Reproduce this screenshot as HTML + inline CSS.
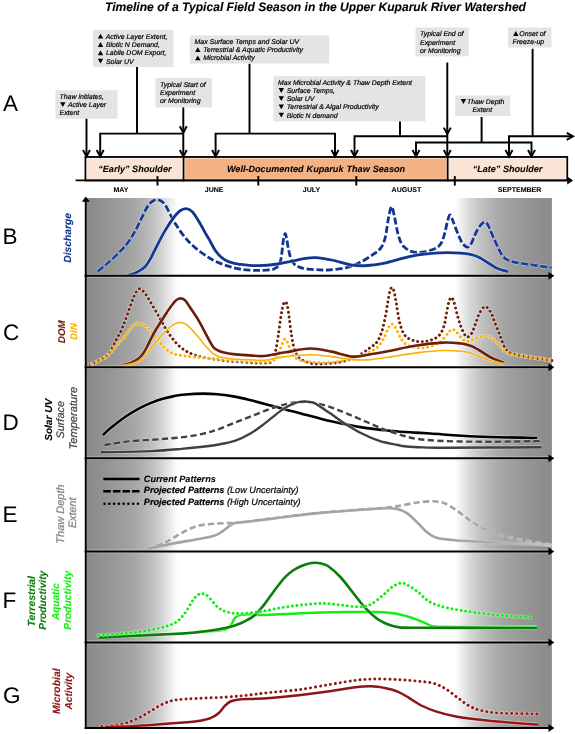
<!DOCTYPE html>
<html><head><meta charset="utf-8"><title>Timeline of a Typical Field Season</title>
<style>html,body{margin:0;padding:0;background:#fff;}body{width:575px;height:734px;overflow:hidden;}svg{display:block;will-change:transform;font-family:"Liberation Sans", sans-serif;}text{font-family:"Liberation Sans", sans-serif;text-rendering:geometricPrecision;}</style>
</head><body>
<svg width="575" height="734" viewBox="0 0 575 734">
<defs>
<linearGradient id="gl" x1="0" x2="1" y1="0" y2="0"><stop offset="0" stop-color="#8a8a8a"/><stop offset="0.25" stop-color="#959595"/><stop offset="0.48" stop-color="#a3a3a3"/><stop offset="0.6" stop-color="#afafaf"/><stop offset="0.72" stop-color="#c0c0c0"/><stop offset="0.83" stop-color="#d5d5d5"/><stop offset="0.95" stop-color="#f3f3f3"/><stop offset="1" stop-color="#ffffff"/></linearGradient>
<linearGradient id="gr" x1="0" x2="1" y1="0" y2="0"><stop offset="0" stop-color="#ffffff"/><stop offset="0.05" stop-color="#f3f3f3"/><stop offset="0.17" stop-color="#d5d5d5"/><stop offset="0.28" stop-color="#c0c0c0"/><stop offset="0.4" stop-color="#afafaf"/><stop offset="0.52" stop-color="#a3a3a3"/><stop offset="0.75" stop-color="#959595"/><stop offset="1" stop-color="#8a8a8a"/></linearGradient>
<linearGradient id="lgc" gradientUnits="userSpaceOnUse" x1="455" x2="552" y1="0" y2="0"><stop offset="0" stop-color="#a3a3a3"/><stop offset="0.5" stop-color="#b2b2b2"/><stop offset="1" stop-color="#c0c0c0"/></linearGradient>
<linearGradient id="gblue" gradientUnits="userSpaceOnUse" x1="87" x2="552" y1="0" y2="0"><stop offset="0" stop-color="#1848b8"/><stop offset="0.17" stop-color="#12358f"/><stop offset="0.8" stop-color="#12358f"/><stop offset="1" stop-color="#1848b8"/></linearGradient>
<linearGradient id="gred" gradientUnits="userSpaceOnUse" x1="87" x2="552" y1="0" y2="0"><stop offset="0" stop-color="#b81212"/><stop offset="0.17" stop-color="#8c1515"/><stop offset="0.8" stop-color="#8c1515"/><stop offset="1" stop-color="#b81212"/></linearGradient>
</defs>
<rect x="0" y="0" width="575" height="734" fill="#ffffff"/>
<rect x="87.0" y="198.0" width="91.0" height="530.0" fill="url(#gl)"/>
<rect x="454.8" y="198.0" width="97.1" height="530.0" fill="url(#gr)"/>
<path d="M97.8,271.3 C99.7,269.8 105.2,265.4 109.0,262.0 C112.8,258.6 117.3,254.4 120.6,250.9 C123.9,247.4 126.5,244.6 129.0,241.0 C131.6,237.4 133.0,235.0 135.9,229.6 C138.8,224.2 143.8,213.0 146.5,208.3 C149.2,203.6 150.2,203.0 152.0,201.6 C153.8,200.2 155.5,199.8 157.2,199.8 C158.9,199.8 160.5,200.4 162.0,201.6 C163.5,202.8 164.1,203.0 166.3,206.7 C168.5,210.4 171.4,217.7 175.4,223.8 C179.4,230.0 184.5,237.7 190.6,243.6 C196.7,249.5 204.9,255.5 212.0,259.5 C219.1,263.5 226.9,265.8 233.2,267.6 C239.5,269.4 245.2,269.8 250.0,270.2 C254.8,270.6 258.5,270.4 262.0,270.3 C265.5,270.2 268.9,270.0 270.9,269.8 C272.9,269.6 272.8,269.6 274.0,269.0 C275.2,268.4 277.2,267.5 278.3,266.0 C279.4,264.5 280.2,262.5 280.8,259.8 C281.4,257.1 281.8,253.3 282.2,250.0 C282.6,246.7 282.9,242.7 283.4,240.0 C283.9,237.3 284.6,233.8 285.1,233.6 C285.7,233.4 286.1,236.5 286.7,239.0 C287.2,241.5 287.8,245.7 288.4,248.7 C289.0,251.7 289.4,254.4 290.4,257.0 C291.4,259.6 292.6,262.3 294.2,264.0 C295.8,265.7 297.6,266.5 300.0,267.4 C302.4,268.3 305.1,268.8 308.4,269.2 C311.7,269.6 316.3,269.7 319.6,269.8 C322.9,269.9 323.8,270.4 328.3,270.0 C332.8,269.6 340.9,269.0 346.5,267.6 C352.1,266.2 357.1,263.8 361.7,261.5 C366.3,259.2 370.8,256.0 373.9,253.9 C376.9,251.8 378.4,250.8 380.0,249.0 C381.6,247.2 382.5,245.5 383.5,243.0 C384.5,240.5 385.2,238.2 386.0,234.0 C386.8,229.8 387.6,222.6 388.5,218.0 C389.4,213.4 390.6,206.9 391.6,206.7 C392.6,206.5 393.5,212.8 394.5,217.0 C395.5,221.2 396.4,227.6 397.5,232.0 C398.6,236.4 399.9,240.6 401.3,243.3 C402.7,246.1 404.4,247.2 406.0,248.5 C407.6,249.8 408.9,250.7 411.0,251.3 C413.1,252.0 415.8,252.4 418.3,252.4 C420.8,252.4 423.5,252.0 426.0,251.5 C428.5,251.0 431.3,250.2 433.5,249.3 C435.7,248.4 437.6,247.3 439.0,246.0 C440.4,244.7 441.0,243.9 442.0,241.7 C443.0,239.5 443.9,236.3 444.8,233.0 C445.7,229.7 446.5,225.0 447.3,222.0 C448.1,219.0 448.9,215.5 449.7,215.0 C450.5,214.5 451.3,217.1 452.2,219.0 C453.1,220.9 453.6,223.0 455.0,226.5 C456.4,230.0 459.2,237.1 460.7,240.2 C462.2,243.3 462.9,243.8 464.0,245.0 C465.1,246.2 466.4,247.4 467.6,247.2 C468.8,247.0 469.8,245.9 471.0,244.0 C472.2,242.1 473.2,238.5 474.6,235.6 C476.0,232.7 477.8,228.8 479.5,226.5 C481.2,224.2 483.2,222.2 484.6,222.0 C486.0,221.8 486.9,223.2 488.0,225.0 C489.1,226.8 489.5,228.5 491.3,232.6 C493.1,236.7 497.0,245.5 498.9,249.3 C500.8,253.1 501.2,253.8 502.5,255.5 C503.8,257.2 504.8,258.3 506.5,259.4 C508.2,260.4 510.5,261.1 513.0,261.8 C515.5,262.5 517.9,262.7 521.7,263.3 C525.5,263.9 531.0,264.8 536.0,265.5 C541.0,266.2 548.9,267.2 551.5,267.6" fill="none" stroke-linecap="butt" stroke-linejoin="round" stroke-dasharray="7 2.6" stroke="#fff" stroke-opacity="0.45" stroke-width="4.2"/>
<path d="M97.8,271.3 C99.7,269.8 105.2,265.4 109.0,262.0 C112.8,258.6 117.3,254.4 120.6,250.9 C123.9,247.4 126.5,244.6 129.0,241.0 C131.6,237.4 133.0,235.0 135.9,229.6 C138.8,224.2 143.8,213.0 146.5,208.3 C149.2,203.6 150.2,203.0 152.0,201.6 C153.8,200.2 155.5,199.8 157.2,199.8 C158.9,199.8 160.5,200.4 162.0,201.6 C163.5,202.8 164.1,203.0 166.3,206.7 C168.5,210.4 171.4,217.7 175.4,223.8 C179.4,230.0 184.5,237.7 190.6,243.6 C196.7,249.5 204.9,255.5 212.0,259.5 C219.1,263.5 226.9,265.8 233.2,267.6 C239.5,269.4 245.2,269.8 250.0,270.2 C254.8,270.6 258.5,270.4 262.0,270.3 C265.5,270.2 268.9,270.0 270.9,269.8 C272.9,269.6 272.8,269.6 274.0,269.0 C275.2,268.4 277.2,267.5 278.3,266.0 C279.4,264.5 280.2,262.5 280.8,259.8 C281.4,257.1 281.8,253.3 282.2,250.0 C282.6,246.7 282.9,242.7 283.4,240.0 C283.9,237.3 284.6,233.8 285.1,233.6 C285.7,233.4 286.1,236.5 286.7,239.0 C287.2,241.5 287.8,245.7 288.4,248.7 C289.0,251.7 289.4,254.4 290.4,257.0 C291.4,259.6 292.6,262.3 294.2,264.0 C295.8,265.7 297.6,266.5 300.0,267.4 C302.4,268.3 305.1,268.8 308.4,269.2 C311.7,269.6 316.3,269.7 319.6,269.8 C322.9,269.9 323.8,270.4 328.3,270.0 C332.8,269.6 340.9,269.0 346.5,267.6 C352.1,266.2 357.1,263.8 361.7,261.5 C366.3,259.2 370.8,256.0 373.9,253.9 C376.9,251.8 378.4,250.8 380.0,249.0 C381.6,247.2 382.5,245.5 383.5,243.0 C384.5,240.5 385.2,238.2 386.0,234.0 C386.8,229.8 387.6,222.6 388.5,218.0 C389.4,213.4 390.6,206.9 391.6,206.7 C392.6,206.5 393.5,212.8 394.5,217.0 C395.5,221.2 396.4,227.6 397.5,232.0 C398.6,236.4 399.9,240.6 401.3,243.3 C402.7,246.1 404.4,247.2 406.0,248.5 C407.6,249.8 408.9,250.7 411.0,251.3 C413.1,252.0 415.8,252.4 418.3,252.4 C420.8,252.4 423.5,252.0 426.0,251.5 C428.5,251.0 431.3,250.2 433.5,249.3 C435.7,248.4 437.6,247.3 439.0,246.0 C440.4,244.7 441.0,243.9 442.0,241.7 C443.0,239.5 443.9,236.3 444.8,233.0 C445.7,229.7 446.5,225.0 447.3,222.0 C448.1,219.0 448.9,215.5 449.7,215.0 C450.5,214.5 451.3,217.1 452.2,219.0 C453.1,220.9 453.6,223.0 455.0,226.5 C456.4,230.0 459.2,237.1 460.7,240.2 C462.2,243.3 462.9,243.8 464.0,245.0 C465.1,246.2 466.4,247.4 467.6,247.2 C468.8,247.0 469.8,245.9 471.0,244.0 C472.2,242.1 473.2,238.5 474.6,235.6 C476.0,232.7 477.8,228.8 479.5,226.5 C481.2,224.2 483.2,222.2 484.6,222.0 C486.0,221.8 486.9,223.2 488.0,225.0 C489.1,226.8 489.5,228.5 491.3,232.6 C493.1,236.7 497.0,245.5 498.9,249.3 C500.8,253.1 501.2,253.8 502.5,255.5 C503.8,257.2 504.8,258.3 506.5,259.4 C508.2,260.4 510.5,261.1 513.0,261.8 C515.5,262.5 517.9,262.7 521.7,263.3 C525.5,263.9 531.0,264.8 536.0,265.5 C541.0,266.2 548.9,267.2 551.5,267.6" fill="none" stroke-linecap="butt" stroke-linejoin="round" stroke-dasharray="7 2.6" stroke="url(#gblue)" stroke-width="2.8"/>
<path d="M127.6,275.3 C128.5,275.1 131.3,274.4 133.0,273.8 C134.7,273.2 135.9,272.8 138.0,271.6 C140.1,270.4 143.2,268.7 145.3,266.5 C147.4,264.3 148.6,262.0 150.5,258.6 C152.4,255.2 154.4,250.8 156.8,246.1 C159.2,241.4 162.4,235.1 165.2,230.4 C168.0,225.7 171.1,221.1 173.5,217.9 C175.9,214.7 177.7,212.5 179.8,211.0 C181.9,209.5 183.9,208.6 186.0,208.7 C188.1,208.8 190.2,209.6 192.3,211.7 C194.4,213.8 196.2,217.0 198.6,221.0 C201.0,225.0 205.0,232.4 206.9,235.7 C208.8,239.0 208.7,238.5 210.0,240.9 C211.3,243.3 213.2,247.3 215.0,250.0 C216.8,252.7 219.0,255.2 221.0,257.0 C223.0,258.8 225.0,260.0 227.0,261.0 C229.0,262.0 231.0,262.4 233.2,263.0 C235.4,263.6 235.8,263.9 240.0,264.3 C244.2,264.8 252.0,265.8 258.3,265.7 C264.6,265.6 272.2,264.8 277.8,264.0 C283.4,263.2 287.1,262.1 291.7,261.2 C296.3,260.3 301.8,259.0 305.7,258.4 C309.6,257.8 311.1,257.4 315.4,257.7 C319.7,258.0 325.1,258.8 331.3,260.0 C337.5,261.2 346.5,264.3 352.6,265.2 C358.7,266.1 362.2,265.9 367.8,265.5 C373.4,265.1 379.9,264.1 386.0,262.8 C392.1,261.5 398.9,259.2 404.3,257.9 C409.7,256.6 412.4,255.8 418.3,254.9 C424.2,254.1 432.5,253.1 439.6,252.8 C446.7,252.5 454.8,252.7 460.9,253.2 C467.0,253.7 471.4,254.4 476.0,256.0 C480.6,257.6 484.7,260.9 488.3,263.0 C491.9,265.1 494.1,267.1 497.4,268.5 C500.7,269.9 506.2,271.1 508.0,271.6" fill="none" stroke-linecap="butt" stroke-linejoin="round" stroke="#fff" stroke-opacity="0.45" stroke-width="4.2"/>
<path d="M127.6,275.3 C128.5,275.1 131.3,274.4 133.0,273.8 C134.7,273.2 135.9,272.8 138.0,271.6 C140.1,270.4 143.2,268.7 145.3,266.5 C147.4,264.3 148.6,262.0 150.5,258.6 C152.4,255.2 154.4,250.8 156.8,246.1 C159.2,241.4 162.4,235.1 165.2,230.4 C168.0,225.7 171.1,221.1 173.5,217.9 C175.9,214.7 177.7,212.5 179.8,211.0 C181.9,209.5 183.9,208.6 186.0,208.7 C188.1,208.8 190.2,209.6 192.3,211.7 C194.4,213.8 196.2,217.0 198.6,221.0 C201.0,225.0 205.0,232.4 206.9,235.7 C208.8,239.0 208.7,238.5 210.0,240.9 C211.3,243.3 213.2,247.3 215.0,250.0 C216.8,252.7 219.0,255.2 221.0,257.0 C223.0,258.8 225.0,260.0 227.0,261.0 C229.0,262.0 231.0,262.4 233.2,263.0 C235.4,263.6 235.8,263.9 240.0,264.3 C244.2,264.8 252.0,265.8 258.3,265.7 C264.6,265.6 272.2,264.8 277.8,264.0 C283.4,263.2 287.1,262.1 291.7,261.2 C296.3,260.3 301.8,259.0 305.7,258.4 C309.6,257.8 311.1,257.4 315.4,257.7 C319.7,258.0 325.1,258.8 331.3,260.0 C337.5,261.2 346.5,264.3 352.6,265.2 C358.7,266.1 362.2,265.9 367.8,265.5 C373.4,265.1 379.9,264.1 386.0,262.8 C392.1,261.5 398.9,259.2 404.3,257.9 C409.7,256.6 412.4,255.8 418.3,254.9 C424.2,254.1 432.5,253.1 439.6,252.8 C446.7,252.5 454.8,252.7 460.9,253.2 C467.0,253.7 471.4,254.4 476.0,256.0 C480.6,257.6 484.7,260.9 488.3,263.0 C491.9,265.1 494.1,267.1 497.4,268.5 C500.7,269.9 506.2,271.1 508.0,271.6" fill="none" stroke-linecap="butt" stroke-linejoin="round" stroke="url(#gblue)" stroke-width="2.8"/>
<path d="M90.2,364.8 C91.5,364.2 95.5,362.4 98.0,361.0 C100.5,359.6 103.4,358.1 105.4,356.6 C107.4,355.1 108.8,353.5 110.0,352.0 C111.2,350.5 111.7,349.1 112.5,347.5 C113.3,345.9 114.2,344.1 115.0,342.4 C115.8,340.7 116.7,338.8 117.6,337.2 C118.5,335.6 119.4,334.1 120.2,332.5 C121.0,330.9 121.7,329.3 122.3,327.8 C122.9,326.3 123.4,325.0 123.9,323.7 C124.4,322.4 123.9,324.1 125.4,320.0 C126.9,315.9 131.0,304.1 132.8,299.3 C134.7,294.6 135.3,293.3 136.5,291.5 C137.7,289.7 138.6,288.7 139.8,288.7 C141.0,288.7 142.1,290.0 143.5,291.5 C144.9,293.0 145.5,293.7 148.0,297.8 C150.5,301.9 155.1,310.0 158.7,316.1 C162.2,322.2 165.5,329.0 169.3,334.3 C173.1,339.6 176.9,344.4 181.5,348.0 C186.1,351.6 190.1,353.6 196.7,355.6 C203.3,357.6 212.1,359.0 221.0,360.2 C229.9,361.4 243.2,362.1 250.0,362.6 C256.8,363.1 258.6,363.0 262.0,363.0 C265.4,363.0 268.5,363.2 270.4,362.4 C272.3,361.6 272.6,360.2 273.5,358.0 C274.4,355.8 275.2,353.0 276.0,349.0 C276.8,345.0 277.7,339.5 278.5,334.0 C279.3,328.5 280.2,320.8 281.0,316.0 C281.8,311.2 282.3,307.9 283.0,305.5 C283.7,303.1 284.5,301.8 285.2,301.8 C285.9,301.8 286.6,302.8 287.3,305.5 C288.0,308.2 288.5,313.1 289.2,318.0 C289.9,322.9 290.7,330.2 291.5,335.0 C292.3,339.8 292.8,343.5 293.8,347.0 C294.8,350.5 296.1,353.9 297.5,356.0 C298.9,358.1 300.2,358.8 302.0,359.8 C303.8,360.9 305.7,361.6 308.0,362.3 C310.3,363.0 311.1,363.9 316.0,364.0 C320.9,364.1 330.8,363.7 337.4,362.6 C344.0,361.5 350.2,359.7 355.6,357.2 C361.0,354.7 366.5,350.3 370.0,347.8 C373.5,345.3 374.9,344.6 376.8,342.2 C378.7,339.8 380.1,336.3 381.3,333.1 C382.5,329.9 383.2,326.6 384.0,323.0 C384.8,319.4 385.6,315.5 386.3,311.7 C387.0,307.9 387.5,303.7 388.1,300.3 C388.7,296.9 389.3,293.4 389.9,291.3 C390.5,289.2 391.2,287.5 391.9,287.5 C392.6,287.5 393.4,289.2 394.0,291.3 C394.6,293.4 395.2,296.9 395.8,300.3 C396.4,303.7 396.9,307.9 397.6,311.7 C398.3,315.5 398.9,319.6 399.8,323.0 C400.7,326.4 401.6,329.6 402.8,332.0 C404.1,334.4 405.2,336.2 407.3,337.7 C409.4,339.2 412.4,340.3 415.2,341.0 C418.0,341.7 421.3,342.0 424.3,341.7 C427.3,341.4 430.7,340.4 433.3,339.2 C435.9,338.0 438.3,336.6 440.1,334.3 C441.9,332.0 443.1,328.6 444.2,325.2 C445.2,321.8 445.6,317.7 446.4,313.9 C447.1,310.1 447.9,305.4 448.7,302.6 C449.5,299.9 450.5,297.4 451.4,297.4 C452.3,297.4 453.2,299.9 454.1,302.6 C455.0,305.4 455.9,310.1 457.0,313.9 C458.1,317.7 459.1,321.8 460.4,325.2 C461.6,328.6 463.3,332.3 464.5,334.3 C465.7,336.3 466.5,337.2 467.7,337.0 C468.9,336.8 470.3,335.4 471.7,333.1 C473.1,330.8 474.5,326.4 475.8,323.0 C477.1,319.6 478.1,315.6 479.7,312.8 C481.3,310.1 483.4,306.5 485.3,306.5 C487.2,306.5 489.4,310.1 491.0,312.8 C492.6,315.6 493.5,319.2 495.0,323.0 C496.5,326.8 498.5,331.6 500.0,335.4 C501.5,339.2 502.7,343.3 504.0,346.0 C505.3,348.7 506.3,350.4 508.0,351.7 C509.7,353.0 511.7,353.3 514.0,354.0 C516.3,354.7 515.1,354.9 521.7,356.0 C528.3,357.1 548.4,360.0 553.7,360.8" fill="none" stroke-linecap="round" stroke-linejoin="round" stroke-dasharray="0.1 4.6" stroke="#fff" stroke-opacity="0.45" stroke-width="4.3"/>
<path d="M90.2,364.8 C91.5,364.2 95.5,362.4 98.0,361.0 C100.5,359.6 103.4,358.1 105.4,356.6 C107.4,355.1 108.8,353.5 110.0,352.0 C111.2,350.5 111.7,349.1 112.5,347.5 C113.3,345.9 114.2,344.1 115.0,342.4 C115.8,340.7 116.7,338.8 117.6,337.2 C118.5,335.6 119.4,334.1 120.2,332.5 C121.0,330.9 121.7,329.3 122.3,327.8 C122.9,326.3 123.4,325.0 123.9,323.7 C124.4,322.4 123.9,324.1 125.4,320.0 C126.9,315.9 131.0,304.1 132.8,299.3 C134.7,294.6 135.3,293.3 136.5,291.5 C137.7,289.7 138.6,288.7 139.8,288.7 C141.0,288.7 142.1,290.0 143.5,291.5 C144.9,293.0 145.5,293.7 148.0,297.8 C150.5,301.9 155.1,310.0 158.7,316.1 C162.2,322.2 165.5,329.0 169.3,334.3 C173.1,339.6 176.9,344.4 181.5,348.0 C186.1,351.6 190.1,353.6 196.7,355.6 C203.3,357.6 212.1,359.0 221.0,360.2 C229.9,361.4 243.2,362.1 250.0,362.6 C256.8,363.1 258.6,363.0 262.0,363.0 C265.4,363.0 268.5,363.2 270.4,362.4 C272.3,361.6 272.6,360.2 273.5,358.0 C274.4,355.8 275.2,353.0 276.0,349.0 C276.8,345.0 277.7,339.5 278.5,334.0 C279.3,328.5 280.2,320.8 281.0,316.0 C281.8,311.2 282.3,307.9 283.0,305.5 C283.7,303.1 284.5,301.8 285.2,301.8 C285.9,301.8 286.6,302.8 287.3,305.5 C288.0,308.2 288.5,313.1 289.2,318.0 C289.9,322.9 290.7,330.2 291.5,335.0 C292.3,339.8 292.8,343.5 293.8,347.0 C294.8,350.5 296.1,353.9 297.5,356.0 C298.9,358.1 300.2,358.8 302.0,359.8 C303.8,360.9 305.7,361.6 308.0,362.3 C310.3,363.0 311.1,363.9 316.0,364.0 C320.9,364.1 330.8,363.7 337.4,362.6 C344.0,361.5 350.2,359.7 355.6,357.2 C361.0,354.7 366.5,350.3 370.0,347.8 C373.5,345.3 374.9,344.6 376.8,342.2 C378.7,339.8 380.1,336.3 381.3,333.1 C382.5,329.9 383.2,326.6 384.0,323.0 C384.8,319.4 385.6,315.5 386.3,311.7 C387.0,307.9 387.5,303.7 388.1,300.3 C388.7,296.9 389.3,293.4 389.9,291.3 C390.5,289.2 391.2,287.5 391.9,287.5 C392.6,287.5 393.4,289.2 394.0,291.3 C394.6,293.4 395.2,296.9 395.8,300.3 C396.4,303.7 396.9,307.9 397.6,311.7 C398.3,315.5 398.9,319.6 399.8,323.0 C400.7,326.4 401.6,329.6 402.8,332.0 C404.1,334.4 405.2,336.2 407.3,337.7 C409.4,339.2 412.4,340.3 415.2,341.0 C418.0,341.7 421.3,342.0 424.3,341.7 C427.3,341.4 430.7,340.4 433.3,339.2 C435.9,338.0 438.3,336.6 440.1,334.3 C441.9,332.0 443.1,328.6 444.2,325.2 C445.2,321.8 445.6,317.7 446.4,313.9 C447.1,310.1 447.9,305.4 448.7,302.6 C449.5,299.9 450.5,297.4 451.4,297.4 C452.3,297.4 453.2,299.9 454.1,302.6 C455.0,305.4 455.9,310.1 457.0,313.9 C458.1,317.7 459.1,321.8 460.4,325.2 C461.6,328.6 463.3,332.3 464.5,334.3 C465.7,336.3 466.5,337.2 467.7,337.0 C468.9,336.8 470.3,335.4 471.7,333.1 C473.1,330.8 474.5,326.4 475.8,323.0 C477.1,319.6 478.1,315.6 479.7,312.8 C481.3,310.1 483.4,306.5 485.3,306.5 C487.2,306.5 489.4,310.1 491.0,312.8 C492.6,315.6 493.5,319.2 495.0,323.0 C496.5,326.8 498.5,331.6 500.0,335.4 C501.5,339.2 502.7,343.3 504.0,346.0 C505.3,348.7 506.3,350.4 508.0,351.7 C509.7,353.0 511.7,353.3 514.0,354.0 C516.3,354.7 515.1,354.9 521.7,356.0 C528.3,357.1 548.4,360.0 553.7,360.8" fill="none" stroke-linecap="round" stroke-linejoin="round" stroke-dasharray="0.1 4.6" stroke="#6b1f08" stroke-width="2.9"/>
<path d="M90.2,364.8 C91.5,364.2 95.5,362.6 98.0,361.3 C100.5,360.0 103.4,358.6 105.4,357.2 C107.4,355.8 108.4,354.7 110.0,353.0 C111.6,351.3 113.5,348.8 115.0,347.1 C116.5,345.4 117.5,344.3 118.7,343.0 C119.9,341.7 121.2,340.6 122.3,339.3 C123.4,338.0 124.4,336.7 125.4,335.4 C126.4,334.1 127.4,332.8 128.4,331.5 C129.4,330.2 130.4,328.7 131.5,327.5 C132.6,326.3 133.5,325.1 134.8,324.4 C136.1,323.7 137.9,323.2 139.5,323.3 C141.1,323.4 142.8,324.2 144.2,325.0 C145.6,325.8 146.7,326.9 147.9,328.1 C149.1,329.3 150.4,330.7 151.5,332.0 C152.6,333.3 153.6,334.5 154.7,335.7 C155.8,336.9 156.8,338.0 157.8,339.3 C158.8,340.6 159.9,342.2 160.9,343.5 C161.9,344.8 162.9,346.1 164.0,347.3 C165.1,348.5 166.4,349.6 167.7,350.5 C169.0,351.4 170.1,352.1 171.9,352.9 C173.7,353.6 174.4,354.3 178.5,355.0 C182.6,355.7 189.6,356.5 196.7,357.2 C203.8,357.9 212.1,358.6 221.0,359.3 C229.9,360.0 242.8,361.0 250.0,361.4 C257.2,361.8 260.3,361.8 264.0,361.7 C267.7,361.6 270.0,361.6 272.0,361.0 C274.0,360.4 274.8,359.7 276.0,358.0 C277.2,356.3 278.4,353.5 279.5,351.0 C280.6,348.5 281.6,345.0 282.5,343.0 C283.4,341.0 284.2,339.0 285.0,338.9 C285.8,338.8 286.6,340.6 287.5,342.5 C288.4,344.4 289.3,347.6 290.5,350.0 C291.7,352.4 293.2,355.5 294.8,357.2 C296.4,358.9 298.0,359.4 300.0,360.2 C302.0,360.9 301.8,361.3 307.0,361.7 C312.2,362.1 323.2,363.4 331.3,362.6 C339.4,361.9 349.2,359.0 355.6,357.2 C362.1,355.4 366.1,353.8 370.0,351.9 C373.9,350.0 376.6,348.2 379.0,345.6 C381.4,343.0 383.2,339.3 384.7,336.5 C386.2,333.7 387.2,330.5 388.1,328.6 C389.0,326.7 389.4,326.1 390.0,325.3 C390.6,324.6 391.3,324.1 391.9,324.1 C392.5,324.1 393.1,324.6 393.8,325.3 C394.5,326.1 394.9,326.5 396.0,328.6 C397.1,330.7 398.8,335.1 400.5,337.7 C402.2,340.3 403.8,342.8 406.2,344.4 C408.6,346.0 412.2,346.8 415.2,347.4 C418.2,348.0 420.9,348.3 424.3,347.8 C427.7,347.3 432.6,345.7 435.6,344.4 C438.6,343.1 440.2,341.8 442.3,339.9 C444.4,338.0 446.7,334.7 448.0,333.1 C449.3,331.5 449.6,331.1 450.3,330.5 C451.1,329.9 451.8,329.3 452.5,329.3 C453.2,329.3 454.1,329.8 454.8,330.3 C455.6,330.8 455.7,331.0 457.0,332.5 C458.3,334.0 460.9,337.7 462.7,339.2 C464.5,340.7 465.8,341.6 467.7,341.5 C469.6,341.4 471.8,339.6 474.0,338.8 C476.2,338.0 478.5,336.9 480.8,336.5 C483.1,336.1 485.5,335.7 487.6,336.1 C489.7,336.6 491.1,337.6 493.2,339.2 C495.3,340.8 498.3,343.8 500.0,345.6 C501.7,347.4 502.0,348.7 503.5,350.0 C505.0,351.3 507.0,352.8 509.0,353.6 C511.0,354.4 511.5,354.3 515.6,355.0 C519.8,355.7 527.5,356.7 533.9,357.7 C540.2,358.7 550.4,360.3 553.7,360.8" fill="none" stroke-linecap="round" stroke-linejoin="round" stroke-dasharray="0.1 4.6" stroke-dashoffset="2.71" stroke="#fff" stroke-opacity="0.45" stroke-width="4.3"/>
<path d="M90.2,364.8 C91.5,364.2 95.5,362.6 98.0,361.3 C100.5,360.0 103.4,358.6 105.4,357.2 C107.4,355.8 108.4,354.7 110.0,353.0 C111.6,351.3 113.5,348.8 115.0,347.1 C116.5,345.4 117.5,344.3 118.7,343.0 C119.9,341.7 121.2,340.6 122.3,339.3 C123.4,338.0 124.4,336.7 125.4,335.4 C126.4,334.1 127.4,332.8 128.4,331.5 C129.4,330.2 130.4,328.7 131.5,327.5 C132.6,326.3 133.5,325.1 134.8,324.4 C136.1,323.7 137.9,323.2 139.5,323.3 C141.1,323.4 142.8,324.2 144.2,325.0 C145.6,325.8 146.7,326.9 147.9,328.1 C149.1,329.3 150.4,330.7 151.5,332.0 C152.6,333.3 153.6,334.5 154.7,335.7 C155.8,336.9 156.8,338.0 157.8,339.3 C158.8,340.6 159.9,342.2 160.9,343.5 C161.9,344.8 162.9,346.1 164.0,347.3 C165.1,348.5 166.4,349.6 167.7,350.5 C169.0,351.4 170.1,352.1 171.9,352.9 C173.7,353.6 174.4,354.3 178.5,355.0 C182.6,355.7 189.6,356.5 196.7,357.2 C203.8,357.9 212.1,358.6 221.0,359.3 C229.9,360.0 242.8,361.0 250.0,361.4 C257.2,361.8 260.3,361.8 264.0,361.7 C267.7,361.6 270.0,361.6 272.0,361.0 C274.0,360.4 274.8,359.7 276.0,358.0 C277.2,356.3 278.4,353.5 279.5,351.0 C280.6,348.5 281.6,345.0 282.5,343.0 C283.4,341.0 284.2,339.0 285.0,338.9 C285.8,338.8 286.6,340.6 287.5,342.5 C288.4,344.4 289.3,347.6 290.5,350.0 C291.7,352.4 293.2,355.5 294.8,357.2 C296.4,358.9 298.0,359.4 300.0,360.2 C302.0,360.9 301.8,361.3 307.0,361.7 C312.2,362.1 323.2,363.4 331.3,362.6 C339.4,361.9 349.2,359.0 355.6,357.2 C362.1,355.4 366.1,353.8 370.0,351.9 C373.9,350.0 376.6,348.2 379.0,345.6 C381.4,343.0 383.2,339.3 384.7,336.5 C386.2,333.7 387.2,330.5 388.1,328.6 C389.0,326.7 389.4,326.1 390.0,325.3 C390.6,324.6 391.3,324.1 391.9,324.1 C392.5,324.1 393.1,324.6 393.8,325.3 C394.5,326.1 394.9,326.5 396.0,328.6 C397.1,330.7 398.8,335.1 400.5,337.7 C402.2,340.3 403.8,342.8 406.2,344.4 C408.6,346.0 412.2,346.8 415.2,347.4 C418.2,348.0 420.9,348.3 424.3,347.8 C427.7,347.3 432.6,345.7 435.6,344.4 C438.6,343.1 440.2,341.8 442.3,339.9 C444.4,338.0 446.7,334.7 448.0,333.1 C449.3,331.5 449.6,331.1 450.3,330.5 C451.1,329.9 451.8,329.3 452.5,329.3 C453.2,329.3 454.1,329.8 454.8,330.3 C455.6,330.8 455.7,331.0 457.0,332.5 C458.3,334.0 460.9,337.7 462.7,339.2 C464.5,340.7 465.8,341.6 467.7,341.5 C469.6,341.4 471.8,339.6 474.0,338.8 C476.2,338.0 478.5,336.9 480.8,336.5 C483.1,336.1 485.5,335.7 487.6,336.1 C489.7,336.6 491.1,337.6 493.2,339.2 C495.3,340.8 498.3,343.8 500.0,345.6 C501.7,347.4 502.0,348.7 503.5,350.0 C505.0,351.3 507.0,352.8 509.0,353.6 C511.0,354.4 511.5,354.3 515.6,355.0 C519.8,355.7 527.5,356.7 533.9,357.7 C540.2,358.7 550.4,360.3 553.7,360.8" fill="none" stroke-linecap="round" stroke-linejoin="round" stroke-dasharray="0.1 4.6" stroke-dashoffset="2.71" stroke="#fcb300" stroke-width="2.9"/>
<path d="M121.3,365.5 C122.9,365.1 127.9,364.0 130.7,362.9 C133.5,361.8 135.9,360.7 138.0,359.1 C140.1,357.5 141.6,355.6 143.2,353.4 C144.8,351.2 145.9,348.7 147.3,346.1 C148.7,343.5 149.9,340.7 151.5,337.7 C153.1,334.7 154.9,331.2 156.7,328.3 C158.4,325.4 160.4,322.5 162.0,320.0 C163.6,317.5 164.9,315.3 166.3,313.2 C167.7,311.1 168.8,309.3 170.4,307.2 C172.0,305.1 174.3,302.0 175.7,300.6 C177.0,299.2 177.6,299.3 178.5,298.9 C179.4,298.5 180.1,298.3 180.9,298.4 C181.7,298.4 182.6,298.7 183.5,299.2 C184.4,299.7 184.8,299.8 186.1,301.5 C187.4,303.2 189.0,305.8 191.3,309.3 C193.6,312.8 196.8,317.2 199.7,322.3 C202.6,327.4 206.7,335.8 209.0,340.0 C211.3,344.2 212.0,345.6 213.5,347.3 C215.0,349.1 216.1,349.6 218.0,350.5 C219.9,351.4 222.5,352.2 225.0,352.8 C227.5,353.4 229.0,353.7 233.2,354.1 C237.4,354.5 244.8,355.1 250.0,355.4 C255.2,355.7 258.4,356.5 264.3,356.0 C270.2,355.5 278.0,353.6 285.6,352.3 C293.2,351.1 302.4,348.6 310.0,348.5 C317.6,348.4 324.2,350.2 331.3,351.6 C338.4,353.0 346.5,356.1 352.6,356.6 C358.7,357.1 361.7,355.6 367.8,354.7 C373.9,353.8 381.1,352.5 389.0,351.0 C396.9,349.5 406.1,347.2 415.0,345.8 C423.9,344.4 435.0,343.0 442.6,342.6 C450.2,342.2 456.4,343.0 460.9,343.5 C465.4,344.0 467.1,344.9 469.5,345.6 C471.9,346.3 473.1,346.9 475.0,347.8 C476.9,348.7 478.3,349.7 480.8,351.2 C483.3,352.7 487.3,355.5 489.8,356.9 C492.3,358.3 493.7,358.8 496.0,359.8 C498.3,360.8 502.2,362.3 503.5,362.8" fill="none" stroke-linecap="butt" stroke-linejoin="round" stroke="#fff" stroke-opacity="0.45" stroke-width="4.0"/>
<path d="M121.3,365.5 C122.9,365.1 127.9,364.0 130.7,362.9 C133.5,361.8 135.9,360.7 138.0,359.1 C140.1,357.5 141.6,355.6 143.2,353.4 C144.8,351.2 145.9,348.7 147.3,346.1 C148.7,343.5 149.9,340.7 151.5,337.7 C153.1,334.7 154.9,331.2 156.7,328.3 C158.4,325.4 160.4,322.5 162.0,320.0 C163.6,317.5 164.9,315.3 166.3,313.2 C167.7,311.1 168.8,309.3 170.4,307.2 C172.0,305.1 174.3,302.0 175.7,300.6 C177.0,299.2 177.6,299.3 178.5,298.9 C179.4,298.5 180.1,298.3 180.9,298.4 C181.7,298.4 182.6,298.7 183.5,299.2 C184.4,299.7 184.8,299.8 186.1,301.5 C187.4,303.2 189.0,305.8 191.3,309.3 C193.6,312.8 196.8,317.2 199.7,322.3 C202.6,327.4 206.7,335.8 209.0,340.0 C211.3,344.2 212.0,345.6 213.5,347.3 C215.0,349.1 216.1,349.6 218.0,350.5 C219.9,351.4 222.5,352.2 225.0,352.8 C227.5,353.4 229.0,353.7 233.2,354.1 C237.4,354.5 244.8,355.1 250.0,355.4 C255.2,355.7 258.4,356.5 264.3,356.0 C270.2,355.5 278.0,353.6 285.6,352.3 C293.2,351.1 302.4,348.6 310.0,348.5 C317.6,348.4 324.2,350.2 331.3,351.6 C338.4,353.0 346.5,356.1 352.6,356.6 C358.7,357.1 361.7,355.6 367.8,354.7 C373.9,353.8 381.1,352.5 389.0,351.0 C396.9,349.5 406.1,347.2 415.0,345.8 C423.9,344.4 435.0,343.0 442.6,342.6 C450.2,342.2 456.4,343.0 460.9,343.5 C465.4,344.0 467.1,344.9 469.5,345.6 C471.9,346.3 473.1,346.9 475.0,347.8 C476.9,348.7 478.3,349.7 480.8,351.2 C483.3,352.7 487.3,355.5 489.8,356.9 C492.3,358.3 493.7,358.8 496.0,359.8 C498.3,360.8 502.2,362.3 503.5,362.8" fill="none" stroke-linecap="butt" stroke-linejoin="round" stroke="#6b1f08" stroke-width="2.6"/>
<path d="M121.3,365.9 C122.9,365.6 127.9,365.1 130.7,364.4 C133.5,363.7 135.8,363.0 138.0,361.7 C140.2,360.4 142.3,358.4 144.2,356.5 C146.1,354.6 147.7,352.5 149.4,350.3 C151.2,348.1 152.9,345.7 154.7,343.5 C156.4,341.3 158.0,339.4 159.9,337.2 C161.8,335.0 164.6,332.2 166.3,330.5 C168.1,328.8 168.8,327.8 170.4,326.7 C172.0,325.6 173.9,324.3 175.7,323.6 C177.4,322.9 179.2,322.4 180.9,322.5 C182.6,322.6 184.4,323.3 186.1,324.4 C187.8,325.5 189.0,326.7 191.3,329.1 C193.6,331.5 197.4,336.0 199.7,338.7 C202.0,341.4 203.0,343.2 205.0,345.5 C207.0,347.8 210.0,350.9 211.9,352.6 C213.8,354.3 215.0,354.7 216.5,355.5 C218.0,356.3 219.1,356.7 221.0,357.2 C222.9,357.7 225.4,358.1 228.0,358.5 C230.6,358.9 232.6,359.1 236.3,359.3 C240.0,359.5 245.3,359.7 250.0,359.8 C254.7,359.9 258.4,360.7 264.3,360.2 C270.2,359.7 278.0,357.5 285.6,356.6 C293.2,355.7 302.4,354.7 310.0,354.7 C317.6,354.7 324.2,355.8 331.3,356.6 C338.4,357.4 346.0,359.1 352.6,359.6 C359.2,360.1 364.3,360.1 370.9,359.6 C377.5,359.1 384.3,357.8 392.2,356.6 C400.1,355.4 409.9,353.6 418.3,352.6 C426.7,351.6 435.5,350.7 442.6,350.5 C449.7,350.3 456.4,350.8 460.9,351.2 C465.4,351.6 466.2,351.9 469.5,352.8 C472.8,353.8 477.4,355.6 480.8,356.9 C484.2,358.2 487.1,359.6 489.8,360.5 C492.5,361.4 494.7,361.8 497.0,362.4 C499.3,362.9 502.4,363.6 503.5,363.8" fill="none" stroke-linecap="butt" stroke-linejoin="round" stroke="#fff" stroke-opacity="0.45" stroke-width="3.0"/>
<path d="M121.3,365.9 C122.9,365.6 127.9,365.1 130.7,364.4 C133.5,363.7 135.8,363.0 138.0,361.7 C140.2,360.4 142.3,358.4 144.2,356.5 C146.1,354.6 147.7,352.5 149.4,350.3 C151.2,348.1 152.9,345.7 154.7,343.5 C156.4,341.3 158.0,339.4 159.9,337.2 C161.8,335.0 164.6,332.2 166.3,330.5 C168.1,328.8 168.8,327.8 170.4,326.7 C172.0,325.6 173.9,324.3 175.7,323.6 C177.4,322.9 179.2,322.4 180.9,322.5 C182.6,322.6 184.4,323.3 186.1,324.4 C187.8,325.5 189.0,326.7 191.3,329.1 C193.6,331.5 197.4,336.0 199.7,338.7 C202.0,341.4 203.0,343.2 205.0,345.5 C207.0,347.8 210.0,350.9 211.9,352.6 C213.8,354.3 215.0,354.7 216.5,355.5 C218.0,356.3 219.1,356.7 221.0,357.2 C222.9,357.7 225.4,358.1 228.0,358.5 C230.6,358.9 232.6,359.1 236.3,359.3 C240.0,359.5 245.3,359.7 250.0,359.8 C254.7,359.9 258.4,360.7 264.3,360.2 C270.2,359.7 278.0,357.5 285.6,356.6 C293.2,355.7 302.4,354.7 310.0,354.7 C317.6,354.7 324.2,355.8 331.3,356.6 C338.4,357.4 346.0,359.1 352.6,359.6 C359.2,360.1 364.3,360.1 370.9,359.6 C377.5,359.1 384.3,357.8 392.2,356.6 C400.1,355.4 409.9,353.6 418.3,352.6 C426.7,351.6 435.5,350.7 442.6,350.5 C449.7,350.3 456.4,350.8 460.9,351.2 C465.4,351.6 466.2,351.9 469.5,352.8 C472.8,353.8 477.4,355.6 480.8,356.9 C484.2,358.2 487.1,359.6 489.8,360.5 C492.5,361.4 494.7,361.8 497.0,362.4 C499.3,362.9 502.4,363.6 503.5,363.8" fill="none" stroke-linecap="butt" stroke-linejoin="round" stroke="#fcb300" stroke-width="1.6"/>
<path d="M102.9,435.0 C104.1,433.9 107.5,430.7 110.0,428.6 C112.5,426.5 114.6,424.8 117.6,422.5 C120.6,420.2 124.2,417.4 128.0,415.0 C131.8,412.6 136.4,409.9 140.2,407.9 C144.0,405.9 147.2,404.4 151.0,402.9 C154.8,401.4 159.0,399.9 162.8,398.8 C166.6,397.7 170.2,396.8 174.0,396.1 C177.8,395.4 180.5,394.9 185.4,394.5 C190.3,394.1 198.2,393.7 203.5,393.6 C208.8,393.6 212.2,393.7 217.4,394.2 C222.6,394.7 229.0,395.5 234.8,396.6 C240.6,397.7 246.4,399.2 252.2,400.6 C258.0,402.0 263.8,403.6 269.6,405.2 C275.4,406.8 281.8,408.5 287.0,409.9 C292.2,411.3 293.5,411.5 300.9,413.4 C308.3,415.3 321.2,419.0 331.3,421.3 C341.4,423.6 351.6,425.8 361.7,427.4 C371.8,429.0 383.3,430.1 392.2,431.0 C401.1,431.9 408.6,432.2 415.0,432.6 C421.4,433.0 420.2,432.9 430.4,433.5 C440.6,434.1 458.2,435.8 476.0,436.5 C493.8,437.2 526.8,437.8 537.0,438.0" fill="none" stroke-linecap="butt" stroke-linejoin="round" stroke="#fff" stroke-opacity="0.45" stroke-width="4.0"/>
<path d="M102.9,435.0 C104.1,433.9 107.5,430.7 110.0,428.6 C112.5,426.5 114.6,424.8 117.6,422.5 C120.6,420.2 124.2,417.4 128.0,415.0 C131.8,412.6 136.4,409.9 140.2,407.9 C144.0,405.9 147.2,404.4 151.0,402.9 C154.8,401.4 159.0,399.9 162.8,398.8 C166.6,397.7 170.2,396.8 174.0,396.1 C177.8,395.4 180.5,394.9 185.4,394.5 C190.3,394.1 198.2,393.7 203.5,393.6 C208.8,393.6 212.2,393.7 217.4,394.2 C222.6,394.7 229.0,395.5 234.8,396.6 C240.6,397.7 246.4,399.2 252.2,400.6 C258.0,402.0 263.8,403.6 269.6,405.2 C275.4,406.8 281.8,408.5 287.0,409.9 C292.2,411.3 293.5,411.5 300.9,413.4 C308.3,415.3 321.2,419.0 331.3,421.3 C341.4,423.6 351.6,425.8 361.7,427.4 C371.8,429.0 383.3,430.1 392.2,431.0 C401.1,431.9 408.6,432.2 415.0,432.6 C421.4,433.0 420.2,432.9 430.4,433.5 C440.6,434.1 458.2,435.8 476.0,436.5 C493.8,437.2 526.8,437.8 537.0,438.0" fill="none" stroke-linecap="butt" stroke-linejoin="round" stroke="#000000" stroke-width="2.6"/>
<path d="M104.5,445.0 C108.6,444.4 119.2,442.4 128.9,441.4 C138.6,440.4 153.4,439.8 162.8,439.0 C172.2,438.2 178.6,437.8 185.4,436.9 C192.2,436.0 198.2,434.8 203.5,433.6 C208.8,432.4 212.2,431.4 217.4,429.6 C222.6,427.8 229.0,424.9 234.8,422.6 C240.6,420.3 246.4,418.2 252.2,415.9 C258.0,413.6 263.8,411.0 269.6,409.0 C275.4,407.0 282.3,404.9 287.0,403.8 C291.7,402.7 294.2,402.4 298.0,402.1 C301.8,401.8 304.9,401.4 310.0,402.1 C315.1,402.8 322.2,404.5 328.3,406.4 C334.4,408.3 339.9,410.7 346.5,413.4 C353.1,416.1 361.2,419.7 367.8,422.5 C374.4,425.3 379.9,427.9 386.0,430.1 C392.1,432.4 398.9,434.5 404.3,436.0 C409.7,437.5 411.4,438.1 418.3,439.0 C425.2,439.9 433.4,440.7 445.6,441.1 C457.8,441.6 475.2,441.7 491.3,441.7 C507.4,441.7 533.9,441.2 542.4,441.1" fill="none" stroke-linecap="butt" stroke-linejoin="round" stroke-dasharray="6.2 3.4" stroke="#fff" stroke-opacity="0.45" stroke-width="3.8"/>
<path d="M104.5,445.0 C108.6,444.4 119.2,442.4 128.9,441.4 C138.6,440.4 153.4,439.8 162.8,439.0 C172.2,438.2 178.6,437.8 185.4,436.9 C192.2,436.0 198.2,434.8 203.5,433.6 C208.8,432.4 212.2,431.4 217.4,429.6 C222.6,427.8 229.0,424.9 234.8,422.6 C240.6,420.3 246.4,418.2 252.2,415.9 C258.0,413.6 263.8,411.0 269.6,409.0 C275.4,407.0 282.3,404.9 287.0,403.8 C291.7,402.7 294.2,402.4 298.0,402.1 C301.8,401.8 304.9,401.4 310.0,402.1 C315.1,402.8 322.2,404.5 328.3,406.4 C334.4,408.3 339.9,410.7 346.5,413.4 C353.1,416.1 361.2,419.7 367.8,422.5 C374.4,425.3 379.9,427.9 386.0,430.1 C392.1,432.4 398.9,434.5 404.3,436.0 C409.7,437.5 411.4,438.1 418.3,439.0 C425.2,439.9 433.4,440.7 445.6,441.1 C457.8,441.6 475.2,441.7 491.3,441.7 C507.4,441.7 533.9,441.2 542.4,441.1" fill="none" stroke-linecap="butt" stroke-linejoin="round" stroke-dasharray="6.2 3.4" stroke="#404040" stroke-width="2.4"/>
<path d="M100.9,452.3 C109.2,452.1 137.6,451.7 151.0,451.1 C164.4,450.5 173.3,449.6 181.5,448.9 C189.7,448.2 194.0,447.7 200.0,447.0 C206.0,446.3 211.6,445.7 217.4,444.7 C223.2,443.7 229.4,442.7 234.8,440.9 C240.2,439.1 245.0,436.7 250.0,433.8 C255.0,430.9 259.9,427.1 264.8,423.4 C269.7,419.7 275.8,414.4 279.6,411.6 C283.4,408.8 285.0,407.9 287.5,406.5 C290.0,405.1 292.3,404.1 294.4,403.3 C296.5,402.5 298.3,402.2 300.0,401.9 C301.7,401.6 303.0,401.5 304.7,401.5 C306.4,401.5 308.3,401.7 310.0,402.0 C311.7,402.3 311.7,401.5 315.0,403.4 C318.3,405.2 324.9,409.8 329.8,413.1 C334.7,416.4 339.2,419.9 344.6,423.4 C350.0,426.8 356.5,430.8 362.4,433.8 C368.3,436.8 374.2,439.3 380.1,441.2 C386.0,443.1 393.8,444.1 397.8,445.0 C401.8,445.9 400.9,445.9 404.3,446.3 C407.7,446.7 411.4,446.9 418.3,447.2 C425.2,447.4 425.1,447.8 445.6,447.8 C466.1,447.8 525.5,447.3 541.5,447.2" fill="none" stroke-linecap="butt" stroke-linejoin="round" stroke="#fff" stroke-opacity="0.45" stroke-width="3.8"/>
<path d="M100.9,452.3 C109.2,452.1 137.6,451.7 151.0,451.1 C164.4,450.5 173.3,449.6 181.5,448.9 C189.7,448.2 194.0,447.7 200.0,447.0 C206.0,446.3 211.6,445.7 217.4,444.7 C223.2,443.7 229.4,442.7 234.8,440.9 C240.2,439.1 245.0,436.7 250.0,433.8 C255.0,430.9 259.9,427.1 264.8,423.4 C269.7,419.7 275.8,414.4 279.6,411.6 C283.4,408.8 285.0,407.9 287.5,406.5 C290.0,405.1 292.3,404.1 294.4,403.3 C296.5,402.5 298.3,402.2 300.0,401.9 C301.7,401.6 303.0,401.5 304.7,401.5 C306.4,401.5 308.3,401.7 310.0,402.0 C311.7,402.3 311.7,401.5 315.0,403.4 C318.3,405.2 324.9,409.8 329.8,413.1 C334.7,416.4 339.2,419.9 344.6,423.4 C350.0,426.8 356.5,430.8 362.4,433.8 C368.3,436.8 374.2,439.3 380.1,441.2 C386.0,443.1 393.8,444.1 397.8,445.0 C401.8,445.9 400.9,445.9 404.3,446.3 C407.7,446.7 411.4,446.9 418.3,447.2 C425.2,447.4 425.1,447.8 445.6,447.8 C466.1,447.8 525.5,447.3 541.5,447.2" fill="none" stroke-linecap="butt" stroke-linejoin="round" stroke="#404040" stroke-width="2.4"/>
<path d="M147.6,549.2 C151.3,548.4 161.0,545.8 169.6,544.1 C178.2,542.4 191.7,540.4 199.1,539.0 C206.5,537.6 210.4,536.8 213.9,535.8 C217.4,534.8 218.3,534.0 220.0,533.0 C221.7,532.0 222.4,531.5 224.3,530.0 C226.2,528.5 229.8,525.5 231.7,524.3 C233.6,523.1 234.5,523.1 236.0,522.8 C237.5,522.5 238.2,522.5 240.5,522.3 C242.8,522.1 245.0,522.0 250.0,521.4 C255.0,520.8 259.4,520.2 270.4,518.9 C281.4,517.6 300.8,514.9 316.0,513.4 C331.2,511.9 350.0,510.6 361.7,509.8 C373.4,509.0 379.9,508.4 386.0,508.3 C392.1,508.2 394.6,508.4 398.2,509.2 C401.8,510.0 404.0,511.0 407.4,513.4 C410.8,515.8 415.0,520.3 418.3,523.5 C421.6,526.7 424.4,530.2 427.4,532.6 C430.4,535.0 431.9,536.5 436.5,537.8 C441.1,539.1 445.7,539.5 454.8,540.2 C463.9,541.0 479.1,541.7 491.3,542.3 C503.5,542.9 517.7,543.4 527.8,543.9 C537.9,544.4 548.0,545.1 552.0,545.4" fill="none" stroke-linecap="butt" stroke-linejoin="round" stroke="#fff" stroke-opacity="0.2" stroke-width="4.0"/>
<path d="M147.6,549.2 C151.3,548.4 161.0,545.8 169.6,544.1 C178.2,542.4 191.7,540.4 199.1,539.0 C206.5,537.6 210.4,536.8 213.9,535.8 C217.4,534.8 218.3,534.0 220.0,533.0 C221.7,532.0 222.4,531.5 224.3,530.0 C226.2,528.5 229.8,525.5 231.7,524.3 C233.6,523.1 234.5,523.1 236.0,522.8 C237.5,522.5 238.2,522.5 240.5,522.3 C242.8,522.1 245.0,522.0 250.0,521.4 C255.0,520.8 259.4,520.2 270.4,518.9 C281.4,517.6 300.8,514.9 316.0,513.4 C331.2,511.9 350.0,510.6 361.7,509.8 C373.4,509.0 379.9,508.4 386.0,508.3 C392.1,508.2 394.6,508.4 398.2,509.2 C401.8,510.0 404.0,511.0 407.4,513.4 C410.8,515.8 415.0,520.3 418.3,523.5 C421.6,526.7 424.4,530.2 427.4,532.6 C430.4,535.0 431.9,536.5 436.5,537.8 C441.1,539.1 445.7,539.5 454.8,540.2 C463.9,541.0 479.1,541.7 491.3,542.3 C503.5,542.9 517.7,543.4 527.8,543.9 C537.9,544.4 548.0,545.1 552.0,545.4" fill="none" stroke-linecap="butt" stroke-linejoin="round" stroke="url(#lgc)" stroke-width="2.6"/>
<path d="M147.6,549.2 C150.3,548.2 159.0,545.3 163.7,543.2 C168.3,541.1 171.6,538.8 175.5,536.6 C179.4,534.4 183.4,531.8 187.3,530.0 C191.2,528.2 194.7,526.6 199.1,525.6 C203.5,524.6 208.5,524.1 213.9,523.7 C219.3,523.3 227.3,523.2 231.7,523.0 C236.1,522.8 237.4,522.5 240.5,522.2 C243.6,521.9 245.0,521.8 250.0,521.2 C255.0,520.6 259.4,520.0 270.4,518.6 C281.4,517.2 300.8,514.6 316.0,513.1 C331.2,511.6 350.0,510.4 361.7,509.5 C373.4,508.6 379.9,508.4 386.0,507.8 C392.1,507.2 393.3,506.9 398.2,506.1 C403.1,505.3 409.3,503.6 415.2,502.8 C421.1,502.0 428.4,501.2 433.5,501.3 C438.6,501.4 441.6,502.0 445.6,503.7 C449.7,505.4 453.7,508.5 457.8,511.3 C461.9,514.1 465.9,517.6 470.0,520.4 C474.1,523.2 477.6,525.7 482.2,528.0 C486.8,530.3 490.8,532.3 497.4,534.3 C504.0,536.3 512.6,538.2 521.7,540.0 C530.8,541.8 547.0,544.2 552.0,545.0" fill="none" stroke-linecap="butt" stroke-linejoin="round" stroke-dasharray="6.2 3.2" stroke="#fff" stroke-opacity="0.2" stroke-width="4.0"/>
<path d="M147.6,549.2 C150.3,548.2 159.0,545.3 163.7,543.2 C168.3,541.1 171.6,538.8 175.5,536.6 C179.4,534.4 183.4,531.8 187.3,530.0 C191.2,528.2 194.7,526.6 199.1,525.6 C203.5,524.6 208.5,524.1 213.9,523.7 C219.3,523.3 227.3,523.2 231.7,523.0 C236.1,522.8 237.4,522.5 240.5,522.2 C243.6,521.9 245.0,521.8 250.0,521.2 C255.0,520.6 259.4,520.0 270.4,518.6 C281.4,517.2 300.8,514.6 316.0,513.1 C331.2,511.6 350.0,510.4 361.7,509.5 C373.4,508.6 379.9,508.4 386.0,507.8 C392.1,507.2 393.3,506.9 398.2,506.1 C403.1,505.3 409.3,503.6 415.2,502.8 C421.1,502.0 428.4,501.2 433.5,501.3 C438.6,501.4 441.6,502.0 445.6,503.7 C449.7,505.4 453.7,508.5 457.8,511.3 C461.9,514.1 465.9,517.6 470.0,520.4 C474.1,523.2 477.6,525.7 482.2,528.0 C486.8,530.3 490.8,532.3 497.4,534.3 C504.0,536.3 512.6,538.2 521.7,540.0 C530.8,541.8 547.0,544.2 552.0,545.0" fill="none" stroke-linecap="butt" stroke-linejoin="round" stroke-dasharray="6.2 3.2" stroke="url(#lgc)" stroke-width="2.6"/>
<path d="M98.7,636.1 C110.0,635.8 150.0,635.0 166.3,634.4 C182.6,633.8 187.6,633.2 196.7,632.5 C205.8,631.8 216.0,630.9 221.0,630.3 C226.0,629.7 224.8,629.9 226.5,629.0 C228.2,628.1 229.7,626.7 231.0,625.0 C232.3,623.3 233.4,620.2 234.4,618.8 C235.4,617.3 236.0,616.9 237.0,616.3 C238.0,615.7 238.3,615.5 240.5,615.1 C242.7,614.8 246.0,614.2 250.0,614.2 C254.0,614.2 255.8,615.2 264.3,615.0 C272.8,614.8 287.2,613.7 300.9,613.2 C314.6,612.7 333.8,612.2 346.5,612.0 C359.2,611.8 368.9,611.8 377.0,612.0 C385.1,612.2 390.1,612.8 395.2,613.5 C400.3,614.2 404.0,615.5 407.4,616.5 C410.8,617.5 412.7,618.2 415.5,619.2 C418.3,620.2 421.9,621.6 424.3,622.6 C426.7,623.6 428.2,624.6 430.0,625.3 C431.8,625.9 429.9,626.2 435.0,626.5 C440.1,626.8 443.9,626.8 460.9,626.9 C477.9,627.0 524.3,626.9 537.0,626.9" fill="none" stroke-linecap="butt" stroke-linejoin="round" stroke="#fff" stroke-opacity="0.45" stroke-width="3.8"/>
<path d="M98.7,636.1 C110.0,635.8 150.0,635.0 166.3,634.4 C182.6,633.8 187.6,633.2 196.7,632.5 C205.8,631.8 216.0,630.9 221.0,630.3 C226.0,629.7 224.8,629.9 226.5,629.0 C228.2,628.1 229.7,626.7 231.0,625.0 C232.3,623.3 233.4,620.2 234.4,618.8 C235.4,617.3 236.0,616.9 237.0,616.3 C238.0,615.7 238.3,615.5 240.5,615.1 C242.7,614.8 246.0,614.2 250.0,614.2 C254.0,614.2 255.8,615.2 264.3,615.0 C272.8,614.8 287.2,613.7 300.9,613.2 C314.6,612.7 333.8,612.2 346.5,612.0 C359.2,611.8 368.9,611.8 377.0,612.0 C385.1,612.2 390.1,612.8 395.2,613.5 C400.3,614.2 404.0,615.5 407.4,616.5 C410.8,617.5 412.7,618.2 415.5,619.2 C418.3,620.2 421.9,621.6 424.3,622.6 C426.7,623.6 428.2,624.6 430.0,625.3 C431.8,625.9 429.9,626.2 435.0,626.5 C440.1,626.8 443.9,626.8 460.9,626.9 C477.9,627.0 524.3,626.9 537.0,626.9" fill="none" stroke-linecap="butt" stroke-linejoin="round" stroke="#12ee12" stroke-width="2.4"/>
<path d="M98.7,637.6 C108.9,637.1 146.0,635.3 160.0,634.6 C174.0,633.9 175.1,634.1 182.6,633.5 C190.1,632.9 197.7,632.2 205.2,631.2 C212.7,630.2 221.8,628.9 227.8,627.5 C233.8,626.1 237.9,624.4 241.4,623.0 C244.9,621.6 246.7,620.3 249.0,619.0 C251.3,617.7 252.5,617.4 255.0,615.0 C257.5,612.6 261.0,608.7 264.0,604.9 C267.0,601.1 270.5,595.8 273.0,592.4 C275.5,589.0 276.9,587.1 279.0,584.5 C281.1,581.9 283.3,578.9 285.6,576.6 C287.9,574.3 290.4,572.2 293.0,570.5 C295.6,568.8 298.4,567.4 300.9,566.3 C303.4,565.2 305.7,564.3 308.0,563.7 C310.3,563.1 312.4,562.7 314.6,562.7 C316.9,562.7 319.2,563.0 321.5,563.6 C323.8,564.2 325.2,564.1 328.3,566.3 C331.4,568.5 336.3,572.7 340.4,577.0 C344.4,581.3 348.5,587.1 352.6,592.2 C356.7,597.3 360.7,603.0 364.8,607.4 C368.9,611.8 373.0,615.7 377.0,618.6 C381.0,621.5 385.5,623.3 389.0,624.7 C392.5,626.1 393.9,626.6 398.2,627.1 C402.5,627.6 391.9,627.6 415.0,627.7 C438.1,627.9 516.7,628.0 537.0,628.0" fill="none" stroke-linecap="butt" stroke-linejoin="round" stroke="#fff" stroke-opacity="0.45" stroke-width="4.0"/>
<path d="M98.7,637.6 C108.9,637.1 146.0,635.3 160.0,634.6 C174.0,633.9 175.1,634.1 182.6,633.5 C190.1,632.9 197.7,632.2 205.2,631.2 C212.7,630.2 221.8,628.9 227.8,627.5 C233.8,626.1 237.9,624.4 241.4,623.0 C244.9,621.6 246.7,620.3 249.0,619.0 C251.3,617.7 252.5,617.4 255.0,615.0 C257.5,612.6 261.0,608.7 264.0,604.9 C267.0,601.1 270.5,595.8 273.0,592.4 C275.5,589.0 276.9,587.1 279.0,584.5 C281.1,581.9 283.3,578.9 285.6,576.6 C287.9,574.3 290.4,572.2 293.0,570.5 C295.6,568.8 298.4,567.4 300.9,566.3 C303.4,565.2 305.7,564.3 308.0,563.7 C310.3,563.1 312.4,562.7 314.6,562.7 C316.9,562.7 319.2,563.0 321.5,563.6 C323.8,564.2 325.2,564.1 328.3,566.3 C331.4,568.5 336.3,572.7 340.4,577.0 C344.4,581.3 348.5,587.1 352.6,592.2 C356.7,597.3 360.7,603.0 364.8,607.4 C368.9,611.8 373.0,615.7 377.0,618.6 C381.0,621.5 385.5,623.3 389.0,624.7 C392.5,626.1 393.9,626.6 398.2,627.1 C402.5,627.6 391.9,627.6 415.0,627.7 C438.1,627.9 516.7,628.0 537.0,628.0" fill="none" stroke-linecap="butt" stroke-linejoin="round" stroke="#0a7d0a" stroke-width="2.6"/>
<path d="M98.7,635.4 C104.9,634.9 125.7,633.6 135.9,632.3 C146.2,631.0 153.6,629.4 160.2,627.8 C166.8,626.2 171.3,625.0 175.4,622.6 C179.5,620.2 181.8,617.0 184.6,613.5 C187.4,610.0 190.1,604.3 192.2,601.3 C194.3,598.3 195.5,596.8 197.0,595.5 C198.5,594.2 200.0,593.9 201.3,593.7 C202.6,593.5 203.7,593.9 205.0,594.5 C206.3,595.1 206.7,595.1 208.9,597.3 C211.1,599.4 214.9,604.9 218.0,607.4 C221.1,609.9 223.6,611.0 227.2,612.0 C230.8,613.0 234.1,613.5 239.3,613.5 C244.5,613.5 251.6,612.9 258.3,612.0 C265.0,611.1 272.5,609.2 279.6,608.0 C286.7,606.8 293.8,605.8 300.9,605.0 C308.0,604.2 315.6,603.4 322.2,603.4 C328.8,603.4 334.3,604.4 340.4,605.0 C346.5,605.6 353.6,606.9 358.7,606.8 C363.8,606.7 366.8,606.2 370.9,604.3 C374.9,602.4 379.4,598.1 383.0,595.2 C386.6,592.3 389.1,589.0 392.2,587.0 C395.2,585.0 398.5,583.2 401.3,583.0 C404.1,582.8 406.2,584.5 409.0,586.0 C411.8,587.5 415.2,589.8 418.3,592.2 C421.4,594.6 423.8,598.1 427.4,600.4 C430.9,602.7 434.0,604.2 439.6,605.9 C445.2,607.6 452.3,609.0 460.9,610.4 C469.5,611.8 479.1,613.1 491.3,614.4 C503.5,615.7 526.8,617.4 533.9,618.0" fill="none" stroke-linecap="round" stroke-linejoin="round" stroke-dasharray="0.1 4.5" stroke="#fff" stroke-opacity="0.45" stroke-width="4.3"/>
<path d="M98.7,635.4 C104.9,634.9 125.7,633.6 135.9,632.3 C146.2,631.0 153.6,629.4 160.2,627.8 C166.8,626.2 171.3,625.0 175.4,622.6 C179.5,620.2 181.8,617.0 184.6,613.5 C187.4,610.0 190.1,604.3 192.2,601.3 C194.3,598.3 195.5,596.8 197.0,595.5 C198.5,594.2 200.0,593.9 201.3,593.7 C202.6,593.5 203.7,593.9 205.0,594.5 C206.3,595.1 206.7,595.1 208.9,597.3 C211.1,599.4 214.9,604.9 218.0,607.4 C221.1,609.9 223.6,611.0 227.2,612.0 C230.8,613.0 234.1,613.5 239.3,613.5 C244.5,613.5 251.6,612.9 258.3,612.0 C265.0,611.1 272.5,609.2 279.6,608.0 C286.7,606.8 293.8,605.8 300.9,605.0 C308.0,604.2 315.6,603.4 322.2,603.4 C328.8,603.4 334.3,604.4 340.4,605.0 C346.5,605.6 353.6,606.9 358.7,606.8 C363.8,606.7 366.8,606.2 370.9,604.3 C374.9,602.4 379.4,598.1 383.0,595.2 C386.6,592.3 389.1,589.0 392.2,587.0 C395.2,585.0 398.5,583.2 401.3,583.0 C404.1,582.8 406.2,584.5 409.0,586.0 C411.8,587.5 415.2,589.8 418.3,592.2 C421.4,594.6 423.8,598.1 427.4,600.4 C430.9,602.7 434.0,604.2 439.6,605.9 C445.2,607.6 452.3,609.0 460.9,610.4 C469.5,611.8 479.1,613.1 491.3,614.4 C503.5,615.7 526.8,617.4 533.9,618.0" fill="none" stroke-linecap="round" stroke-linejoin="round" stroke-dasharray="0.1 4.5" stroke="#12ee12" stroke-width="2.9"/>
<path d="M101.8,726.5 C105.5,726.0 117.5,725.1 123.7,723.6 C129.9,722.1 134.3,719.9 138.9,717.8 C143.5,715.7 146.9,713.1 151.0,710.8 C155.1,708.5 159.2,705.6 163.3,703.8 C167.4,702.0 169.8,700.9 175.4,700.0 C181.0,699.1 188.1,699.0 196.7,698.5 C205.3,698.0 218.3,697.6 227.2,697.0 C236.1,696.4 242.8,695.7 250.0,694.9 C257.2,694.1 261.9,693.3 270.4,692.4 C278.9,691.5 290.8,690.8 300.9,689.4 C311.0,688.0 322.2,685.7 331.3,684.2 C340.4,682.7 348.5,681.2 355.6,680.3 C362.7,679.4 366.8,679.1 373.9,679.0 C381.0,678.9 390.8,679.2 398.2,679.6 C405.6,680.0 412.4,680.6 418.3,681.2 C424.2,681.8 428.9,682.0 433.5,683.3 C438.1,684.6 441.6,686.4 445.6,688.8 C449.7,691.2 453.7,695.0 457.8,697.9 C461.9,700.8 465.9,704.3 470.0,706.4 C474.1,708.5 477.1,709.6 482.2,710.7 C487.3,711.8 490.5,712.6 500.4,713.1 C510.3,713.6 534.6,713.9 541.5,714.0" fill="none" stroke-linecap="round" stroke-linejoin="round" stroke-dasharray="0.1 4.9" stroke="#fff" stroke-opacity="0.45" stroke-width="4.3"/>
<path d="M101.8,726.5 C105.5,726.0 117.5,725.1 123.7,723.6 C129.9,722.1 134.3,719.9 138.9,717.8 C143.5,715.7 146.9,713.1 151.0,710.8 C155.1,708.5 159.2,705.6 163.3,703.8 C167.4,702.0 169.8,700.9 175.4,700.0 C181.0,699.1 188.1,699.0 196.7,698.5 C205.3,698.0 218.3,697.6 227.2,697.0 C236.1,696.4 242.8,695.7 250.0,694.9 C257.2,694.1 261.9,693.3 270.4,692.4 C278.9,691.5 290.8,690.8 300.9,689.4 C311.0,688.0 322.2,685.7 331.3,684.2 C340.4,682.7 348.5,681.2 355.6,680.3 C362.7,679.4 366.8,679.1 373.9,679.0 C381.0,678.9 390.8,679.2 398.2,679.6 C405.6,680.0 412.4,680.6 418.3,681.2 C424.2,681.8 428.9,682.0 433.5,683.3 C438.1,684.6 441.6,686.4 445.6,688.8 C449.7,691.2 453.7,695.0 457.8,697.9 C461.9,700.8 465.9,704.3 470.0,706.4 C474.1,708.5 477.1,709.6 482.2,710.7 C487.3,711.8 490.5,712.6 500.4,713.1 C510.3,713.6 534.6,713.9 541.5,714.0" fill="none" stroke-linecap="round" stroke-linejoin="round" stroke-dasharray="0.1 4.9" stroke="url(#gred)" stroke-width="2.9"/>
<path d="M105.4,727.0 C110.5,726.8 125.8,726.4 135.9,725.9 C146.1,725.4 157.2,724.5 166.3,723.8 C175.4,723.1 185.0,722.4 190.6,721.9 C196.2,721.4 196.7,721.4 200.0,720.8 C203.3,720.2 207.3,719.5 210.4,718.2 C213.5,716.9 216.4,715.1 218.8,713.0 C221.2,710.9 223.1,707.6 225.0,705.7 C226.9,703.8 228.2,702.5 230.3,701.5 C232.4,700.5 234.3,700.1 237.6,699.7 C240.9,699.3 244.5,699.2 250.0,698.9 C255.5,698.6 261.9,698.6 270.4,697.9 C278.9,697.2 290.8,696.1 300.9,694.9 C311.0,693.7 322.2,692.2 331.3,690.9 C340.4,689.6 349.0,688.1 355.6,687.3 C362.2,686.5 365.8,686.1 370.9,686.3 C376.0,686.4 381.4,687.3 386.0,688.2 C390.6,689.1 394.4,690.2 398.2,691.8 C402.0,693.4 405.1,695.6 409.0,697.9 C412.9,700.2 416.7,703.2 421.3,705.5 C425.9,707.8 430.9,709.8 436.5,711.6 C442.1,713.4 448.2,714.9 454.8,716.2 C461.4,717.5 467.4,718.2 476.0,719.2 C484.6,720.2 496.1,721.4 506.5,722.3 C516.9,723.2 533.2,724.3 538.5,724.7" fill="none" stroke-linecap="butt" stroke-linejoin="round" stroke="#fff" stroke-opacity="0.45" stroke-width="3.9"/>
<path d="M105.4,727.0 C110.5,726.8 125.8,726.4 135.9,725.9 C146.1,725.4 157.2,724.5 166.3,723.8 C175.4,723.1 185.0,722.4 190.6,721.9 C196.2,721.4 196.7,721.4 200.0,720.8 C203.3,720.2 207.3,719.5 210.4,718.2 C213.5,716.9 216.4,715.1 218.8,713.0 C221.2,710.9 223.1,707.6 225.0,705.7 C226.9,703.8 228.2,702.5 230.3,701.5 C232.4,700.5 234.3,700.1 237.6,699.7 C240.9,699.3 244.5,699.2 250.0,698.9 C255.5,698.6 261.9,698.6 270.4,697.9 C278.9,697.2 290.8,696.1 300.9,694.9 C311.0,693.7 322.2,692.2 331.3,690.9 C340.4,689.6 349.0,688.1 355.6,687.3 C362.2,686.5 365.8,686.1 370.9,686.3 C376.0,686.4 381.4,687.3 386.0,688.2 C390.6,689.1 394.4,690.2 398.2,691.8 C402.0,693.4 405.1,695.6 409.0,697.9 C412.9,700.2 416.7,703.2 421.3,705.5 C425.9,707.8 430.9,709.8 436.5,711.6 C442.1,713.4 448.2,714.9 454.8,716.2 C461.4,717.5 467.4,718.2 476.0,719.2 C484.6,720.2 496.1,721.4 506.5,722.3 C516.9,723.2 533.2,724.3 538.5,724.7" fill="none" stroke-linecap="butt" stroke-linejoin="round" stroke="url(#gred)" stroke-width="2.5"/>
<g stroke="#fff" stroke-opacity="0.4" stroke-width="3.6" fill="none">
<line x1="86.8" y1="275.8" x2="548.3" y2="275.8"/>
<line x1="86.8" y1="367.3" x2="548.3" y2="367.3"/>
<line x1="86.8" y1="458.3" x2="548.3" y2="458.3"/>
<line x1="86.8" y1="551.4" x2="548.3" y2="551.4"/>
<line x1="86.8" y1="642.4" x2="548.3" y2="642.4"/>
</g>
<g stroke="#000" stroke-width="2.0" fill="none">
<line x1="85.8" y1="200.0" x2="85.8" y2="729.0"/>
<line x1="84.6" y1="275.8" x2="551.3" y2="275.8"/>
<line x1="84.6" y1="367.3" x2="551.3" y2="367.3"/>
<line x1="84.6" y1="458.3" x2="551.3" y2="458.3"/>
<line x1="84.6" y1="551.4" x2="551.3" y2="551.4"/>
<line x1="84.6" y1="642.4" x2="551.3" y2="642.4"/>
<line x1="84.6" y1="728.0" x2="551.3" y2="728.0"/>
</g>
<g fill="#000" stroke="none">
<path d="M85.8,196.4 l-4.0,5.4 l8.0,0 z"/>
<path d="M554.3,275.8 l-5.8,-3.9 l0,7.8 z"/>
<path d="M554.3,367.3 l-5.8,-3.9 l0,7.8 z"/>
<path d="M554.3,458.3 l-5.8,-3.9 l0,7.8 z"/>
<path d="M554.3,551.4 l-5.8,-3.9 l0,7.8 z"/>
<path d="M554.3,642.4 l-5.8,-3.9 l0,7.8 z"/>
<path d="M554.3,728.0 l-5.8,-3.9 l0,7.8 z"/>
</g>
<g stroke="#000" stroke-width="1.9">
<rect x="85.5" y="157.0" width="98.1" height="23.4" fill="#fbe4d6"/>
<rect x="447.6" y="157.0" width="119.6" height="23.4" fill="#fbe4d6"/>
<rect x="183.6" y="157.0" width="264.0" height="23.4" fill="#f4b183"/>
</g>
<g stroke="#fff" stroke-opacity="0.55" stroke-width="0.9" fill="none">
<rect x="86.8" y="158.3" width="95.5" height="20.8"/>
<rect x="184.9" y="158.3" width="261.4" height="20.8"/>
<rect x="448.9" y="158.3" width="117.0" height="20.8"/>
</g>
<g stroke="#000" stroke-width="1.9" fill="none">
<line x1="75.6" y1="180.4" x2="569" y2="180.4"/>
<line x1="157.5" y1="176.1" x2="157.5" y2="185.6"/>
<line x1="258.3" y1="176.1" x2="258.3" y2="185.6"/>
<line x1="356.3" y1="176.1" x2="356.3" y2="185.6"/>
<line x1="454.8" y1="176.1" x2="454.8" y2="185.6"/>
</g>
<path d="M573.2,180.4 l-6,-4 l0,8 z" fill="#000"/>
<rect x="93.0" y="30.0" width="80.5" height="37.0" fill="#e4e4e4"/>
<rect x="55.4" y="90.3" width="62.1" height="28.5" fill="#e4e4e4"/>
<rect x="155.5" y="78.0" width="56.5" height="29.5" fill="#e4e4e4"/>
<rect x="189.8" y="35.4" width="139.5" height="28.2" fill="#e4e4e4"/>
<rect x="273.4" y="76.2" width="152.0" height="45.2" fill="#e4e4e4"/>
<rect x="415.5" y="27.5" width="53.3" height="28.8" fill="#e4e4e4"/>
<rect x="455.2" y="95.5" width="55.0" height="20.5" fill="#e4e4e4"/>
<rect x="508.0" y="27.5" width="43.5" height="20.0" fill="#e4e4e4"/>
<g stroke="#000" stroke-width="1.95" fill="none" stroke-linejoin="miter" stroke-linecap="butt">
<polyline points="86.5,118.8 86.5,156.4"/>
<polyline points="137.0,67.0 137.0,133.6"/>
<polyline points="100.2,156.4 100.2,133.6 183.3,133.6"/>
<polyline points="183.3,107.5 183.3,156.4"/>
<polyline points="249.5,63.8 249.5,133.6"/>
<polyline points="215.6,156.4 215.6,133.6 335.0,133.6 335.0,156.4"/>
<polyline points="400.0,121.4 400.0,136.3"/>
<polyline points="354.5,156.4 354.5,136.3 447.3,136.3"/>
<polyline points="447.3,62.5 447.3,156.4"/>
<polyline points="416.0,156.4 416.0,142.4 531.5,142.4 531.5,156.4"/>
<polyline points="481.6,117.0 481.6,142.4"/>
<polyline points="532.6,48.8 532.6,136.3"/>
<polyline points="509.0,156.4 509.0,136.3 572.2,136.3"/>
<polyline points="83.0,150.0 86.5,156.4 90.0,150.0"/>
<polyline points="96.7,150.0 100.2,156.4 103.7,150.0"/>
<polyline points="179.8,150.0 183.3,156.4 186.8,150.0"/>
<polyline points="179.8,126.2 183.3,132.6 186.8,126.2"/>
<polyline points="212.1,150.0 215.6,156.4 219.1,150.0"/>
<polyline points="331.5,150.0 335.0,156.4 338.5,150.0"/>
<polyline points="351.0,150.0 354.5,156.4 358.0,150.0"/>
<polyline points="443.8,150.0 447.3,156.4 450.8,150.0"/>
<polyline points="443.8,127.6 447.3,134.0 450.8,127.6"/>
<polyline points="412.5,150.0 416.0,156.4 419.5,150.0"/>
<polyline points="528.0,150.0 531.5,156.4 535.0,150.0"/>
<polyline points="505.5,150.0 509.0,156.4 512.5,150.0"/>
<polyline points="566.7,132.8 573.1,136.3 566.7,139.8"/>
</g>
<g fill="#000" stroke="none">
<path d="M97.80,38.50 h5.4 l-2.7,-4.8 z"/>
<path d="M97.80,46.90 h5.4 l-2.7,-4.8 z"/>
<path d="M97.80,55.20 h5.4 l-2.7,-4.8 z"/>
<path d="M97.80,58.80 h5.4 l-2.7,4.8 z"/>
<path d="M60.10,102.20 h5.4 l-2.7,4.8 z"/>
<path d="M195.10,52.00 h5.4 l-2.7,-4.8 z"/>
<path d="M195.10,60.20 h5.4 l-2.7,-4.8 z"/>
<path d="M278.60,88.10 h5.4 l-2.7,4.8 z"/>
<path d="M278.60,96.30 h5.4 l-2.7,4.8 z"/>
<path d="M278.60,104.50 h5.4 l-2.7,4.8 z"/>
<path d="M278.60,112.70 h5.4 l-2.7,4.8 z"/>
<path d="M460.70,99.10 h5.4 l-2.7,4.8 z"/>
<path d="M513.10,35.90 h5.4 l-2.7,-4.8 z"/>
</g>
<g stroke="#000" stroke-width="2.5" fill="none">
<line x1="103.3" y1="478.9" x2="139.5" y2="478.9"/>
<line x1="103.3" y1="491.3" x2="139.5" y2="491.3" stroke-dasharray="7.5 2.1"/>
<line x1="104.5" y1="503.8" x2="139.5" y2="503.8" stroke-dasharray="0.1 4.67" stroke-linecap="round"/>
</g>
<g style="will-change:opacity">
<text x="105.0" y="10.6" font-size="12.3" font-weight="bold" font-style="italic" fill="#000" stroke="#000" stroke-width="0.1" textLength="421.0" lengthAdjust="spacingAndGlyphs" xml:space="preserve">Timeline of a Typical Field Season in the Upper Kuparuk River Watershed</text>
<text x="3.0" y="111.0" font-size="22.5" fill="#000" xml:space="preserve">A</text>
<text x="2.6" y="243.6" font-size="22.5" fill="#000" xml:space="preserve">B</text>
<text x="3.0" y="340.3" font-size="22.5" fill="#000" xml:space="preserve">C</text>
<text x="2.6" y="429.9" font-size="22.5" fill="#000" xml:space="preserve">D</text>
<text x="2.6" y="522.2" font-size="22.5" fill="#000" xml:space="preserve">E</text>
<text x="2.6" y="608.4" font-size="22.5" fill="#000" xml:space="preserve">F</text>
<text x="3.0" y="702.8" font-size="22.5" fill="#000" xml:space="preserve">G</text>
<text x="104.0" y="38.5" font-size="6.95" font-style="italic" fill="#000" stroke="#000" stroke-width="0.2" xml:space="preserve"> Active Layer Extent,</text>
<text x="104.0" y="46.9" font-size="6.95" font-style="italic" fill="#000" stroke="#000" stroke-width="0.2" xml:space="preserve"> Biotic N Demand,</text>
<text x="104.0" y="55.2" font-size="6.95" font-style="italic" fill="#000" stroke="#000" stroke-width="0.2" xml:space="preserve"> Labile DOM Export,</text>
<text x="104.0" y="63.6" font-size="6.95" font-style="italic" fill="#000" stroke="#000" stroke-width="0.2" xml:space="preserve"> Solar UV</text>
<text x="59.5" y="98.8" font-size="6.95" font-style="italic" fill="#000" stroke="#000" stroke-width="0.2" xml:space="preserve">Thaw initiates,</text>
<text x="66.3" y="107.0" font-size="6.95" font-style="italic" fill="#000" stroke="#000" stroke-width="0.2" xml:space="preserve"> Active Layer</text>
<text x="59.5" y="115.2" font-size="6.95" font-style="italic" fill="#000" stroke="#000" stroke-width="0.2" xml:space="preserve">Extent</text>
<text x="160.0" y="87.0" font-size="6.95" font-style="italic" fill="#000" stroke="#000" stroke-width="0.2" xml:space="preserve">Typical Start of</text>
<text x="160.0" y="95.2" font-size="6.95" font-style="italic" fill="#000" stroke="#000" stroke-width="0.2" xml:space="preserve">Experiment</text>
<text x="160.0" y="103.4" font-size="6.95" font-style="italic" fill="#000" stroke="#000" stroke-width="0.2" xml:space="preserve">or Monitoring</text>
<text x="194.5" y="43.7" font-size="6.95" font-style="italic" fill="#000" stroke="#000" stroke-width="0.2" xml:space="preserve">Max Surface Temps and Solar UV</text>
<text x="201.3" y="52.0" font-size="6.95" font-style="italic" fill="#000" stroke="#000" stroke-width="0.2" xml:space="preserve"> Terrestrial &amp; Aquatic Productivity</text>
<text x="201.3" y="60.2" font-size="6.95" font-style="italic" fill="#000" stroke="#000" stroke-width="0.2" xml:space="preserve"> Microbial Activity</text>
<text x="278.0" y="84.6" font-size="6.95" font-style="italic" fill="#000" stroke="#000" stroke-width="0.2" xml:space="preserve">Max Microbial Activity &amp; Thaw Depth Extent</text>
<text x="284.8" y="92.9" font-size="6.95" font-style="italic" fill="#000" stroke="#000" stroke-width="0.2" xml:space="preserve"> Surface Temps,</text>
<text x="284.8" y="101.1" font-size="6.95" font-style="italic" fill="#000" stroke="#000" stroke-width="0.2" xml:space="preserve"> Solar UV</text>
<text x="284.8" y="109.3" font-size="6.95" font-style="italic" fill="#000" stroke="#000" stroke-width="0.2" xml:space="preserve"> Terrestrial &amp; Algal Productivity</text>
<text x="284.8" y="117.5" font-size="6.95" font-style="italic" fill="#000" stroke="#000" stroke-width="0.2" xml:space="preserve"> Biotic N demand</text>
<text x="420.0" y="36.3" font-size="6.95" font-style="italic" fill="#000" stroke="#000" stroke-width="0.2" xml:space="preserve">Typical End of</text>
<text x="420.0" y="44.5" font-size="6.95" font-style="italic" fill="#000" stroke="#000" stroke-width="0.2" xml:space="preserve">Experiment</text>
<text x="420.0" y="52.7" font-size="6.95" font-style="italic" fill="#000" stroke="#000" stroke-width="0.2" xml:space="preserve">or Monitoring</text>
<text x="466.9" y="103.9" font-size="6.95" font-style="italic" fill="#000" stroke="#000" stroke-width="0.2" xml:space="preserve">Thaw Depth</text>
<text x="482.3" y="112.3" font-size="6.95" font-style="italic" fill="#000" stroke="#000" stroke-width="0.2" text-anchor="middle" xml:space="preserve">Extent</text>
<text x="519.3" y="35.9" font-size="6.95" font-style="italic" fill="#000" stroke="#000" stroke-width="0.2" xml:space="preserve">Onset of</text>
<text x="512.5" y="44.0" font-size="6.95" font-style="italic" fill="#000" stroke="#000" stroke-width="0.2" xml:space="preserve">Freeze-up</text>
<text x="134.9" y="171.9" font-size="9.1" font-weight="bold" font-style="italic" fill="#000" stroke="#000" stroke-width="0.1" text-anchor="middle" xml:space="preserve">“Early” Shoulder</text>
<text x="316.0" y="171.9" font-size="9.1" font-weight="bold" font-style="italic" fill="#000" stroke="#000" stroke-width="0.1" text-anchor="middle" word-spacing="0.5" id="wd" xml:space="preserve">Well-Documented Kuparuk Thaw Season</text>
<text x="507.5" y="171.9" font-size="9.1" font-weight="bold" font-style="italic" fill="#000" stroke="#000" stroke-width="0.1" text-anchor="middle" xml:space="preserve">“Late” Shoulder</text>
<text x="121.0" y="191.9" font-size="7.0" font-weight="bold" fill="#000" stroke="#000" stroke-width="0.1" text-anchor="middle" xml:space="preserve">MAY</text>
<text x="214.2" y="191.9" font-size="7.0" font-weight="bold" fill="#000" stroke="#000" stroke-width="0.1" text-anchor="middle" xml:space="preserve">JUNE</text>
<text x="311.5" y="191.9" font-size="7.0" font-weight="bold" fill="#000" stroke="#000" stroke-width="0.1" text-anchor="middle" xml:space="preserve">JULY</text>
<text x="406.4" y="191.9" font-size="7.0" font-weight="bold" fill="#000" stroke="#000" stroke-width="0.1" text-anchor="middle" xml:space="preserve">AUGUST</text>
<text x="519.5" y="191.9" font-size="7.0" font-weight="bold" fill="#000" stroke="#000" stroke-width="0.1" text-anchor="middle" xml:space="preserve">SEPTEMBER</text>
<text x="143.8" y="481.9" font-size="9.15" font-weight="bold" font-style="italic" fill="#000" stroke="#000" stroke-width="0.1" id="lg1" xml:space="preserve">Current Patterns</text>
<text x="143.8" y="493.2" font-size="9.15" font-style="italic" fill="#000" stroke="#000" stroke-width="0.2" id="lg2" xml:space="preserve"><tspan font-weight="bold">Projected Patterns</tspan> (Low Uncertainty)</text>
<text x="143.8" y="504.5" font-size="9.15" font-style="italic" fill="#000" stroke="#000" stroke-width="0.2" id="lg3" xml:space="preserve"><tspan font-weight="bold">Projected Patterns</tspan> (High Uncertainty)</text>
<text x="71.0" y="237.9" font-size="10.25" font-weight="bold" font-style="italic" fill="#12358f" stroke="#12358f" stroke-width="0.1" text-anchor="middle" transform="rotate(-90 71.0 237.9)" xml:space="preserve">Discharge</text>
<text x="65.0" y="331.7" font-size="9.85" font-weight="bold" font-style="italic" fill="#6b1f08" stroke="#6b1f08" stroke-width="0.1" text-anchor="middle" transform="rotate(-90 65.0 331.7)" xml:space="preserve">DOM</text>
<text x="77.4" y="331.7" font-size="9.7" font-weight="bold" font-style="italic" fill="#fcb300" stroke="#fcb300" stroke-width="0.1" text-anchor="middle" transform="rotate(-90 77.4 331.7)" xml:space="preserve">DIN</text>
<text x="51.8" y="419.8" font-size="10.1" font-weight="bold" font-style="italic" fill="#000" stroke="#000" stroke-width="0.1" text-anchor="middle" transform="rotate(-90 51.8 419.8)" xml:space="preserve">Solar UV</text>
<text x="64.3" y="419.8" font-size="10.9" font-style="italic" fill="#404040" stroke="#404040" stroke-width="0.2" text-anchor="middle" transform="rotate(-90 64.3 419.8)" xml:space="preserve">Surface</text>
<text x="76.6" y="418.2" font-size="11.15" font-style="italic" fill="#404040" stroke="#404040" stroke-width="0.2" text-anchor="middle" transform="rotate(-90 76.6 418.2)" xml:space="preserve">Temperature</text>
<text x="63.5" y="514.0" font-size="11.0" font-style="italic" fill="#8a8a8a" stroke="#8a8a8a" stroke-width="0.3" text-anchor="middle" transform="rotate(-90 63.5 514.0)" xml:space="preserve">Thaw Depth</text>
<text x="75.6" y="512.8" font-size="10.8" font-style="italic" fill="#8a8a8a" stroke="#8a8a8a" stroke-width="0.3" text-anchor="middle" transform="rotate(-90 75.6 512.8)" xml:space="preserve">Extent</text>
<text x="35.1" y="601.2" font-size="10.4" font-weight="bold" font-style="italic" fill="#0a7d0a" stroke="#0a7d0a" stroke-width="0.1" text-anchor="middle" transform="rotate(-90 35.1 601.2)" xml:space="preserve">Terrestrial</text>
<text x="45.6" y="600.2" font-size="10.2" font-weight="bold" font-style="italic" fill="#0a7d0a" stroke="#0a7d0a" stroke-width="0.1" text-anchor="middle" transform="rotate(-90 45.6 600.2)" xml:space="preserve">Productivity</text>
<text x="58.7" y="601.6" font-size="10.1" font-weight="bold" font-style="italic" fill="#12ee12" stroke="#12ee12" stroke-width="0.1" text-anchor="middle" transform="rotate(-90 58.7 601.6)" xml:space="preserve">Aquatic</text>
<text x="71.0" y="600.2" font-size="10.2" font-weight="bold" font-style="italic" fill="#12ee12" stroke="#12ee12" stroke-width="0.1" text-anchor="middle" transform="rotate(-90 71.0 600.2)" xml:space="preserve">Productivity</text>
<text x="59.9" y="691.2" font-size="10.45" font-weight="bold" font-style="italic" fill="#8c1515" stroke="#8c1515" stroke-width="0.1" text-anchor="middle" transform="rotate(-90 59.9 691.2)" xml:space="preserve">Microbial</text>
<text x="72.4" y="691.2" font-size="10.15" font-weight="bold" font-style="italic" fill="#8c1515" stroke="#8c1515" stroke-width="0.1" text-anchor="middle" transform="rotate(-90 72.4 691.2)" xml:space="preserve">Activity</text>
</g>
</svg>
</body></html>
